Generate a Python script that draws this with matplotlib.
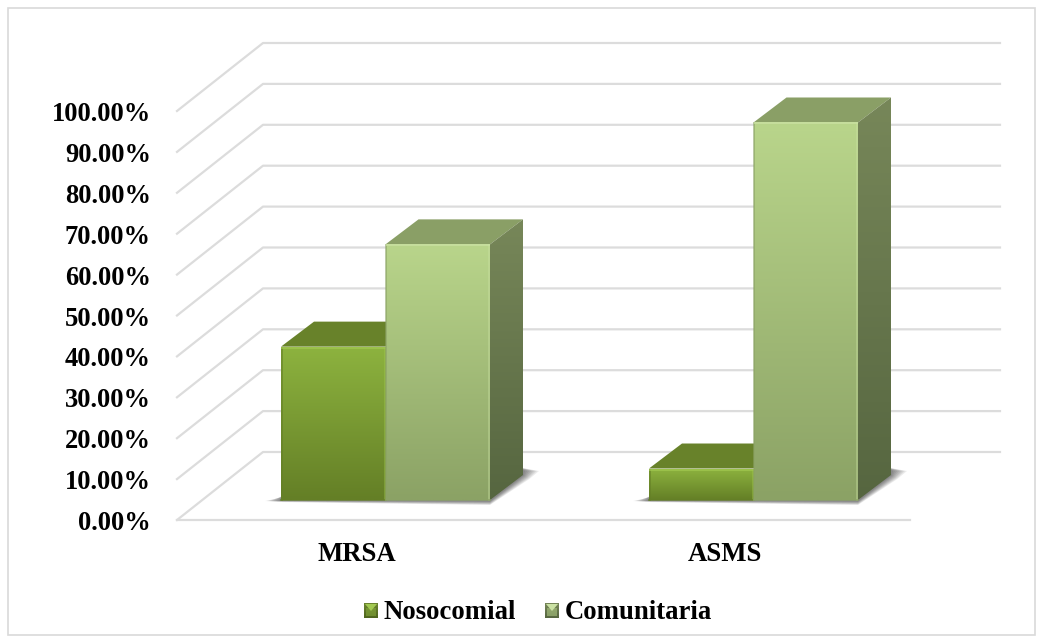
import matplotlib
matplotlib.use("Agg")
import matplotlib.pyplot as plt
from matplotlib.colors import LinearSegmentedColormap
from matplotlib.patches import Polygon
import numpy as np

plt.rcParams['font.family'] = ['Liberation Serif', 'DejaVu Serif']

categories = ["MRSA", "ASMS"]
series_names = ["Nosocomial", "Comunitaria"]
nosocomial = [37.5, 7.7]
comunitaria = [62.5, 92.3]
tick_values = [0, 10, 20, 30, 40, 50, 60, 70, 80, 90, 100]
tick_labels = ["0.00%", "10.00%", "20.00%", "30.00%", "40.00%", "50.00%",
               "60.00%", "70.00%", "80.00%", "90.00%", "100.00%"]

# couleurs : front haut, front bas, dessus, cote haut, cote bas, reflet
colors_nos = ["#8DB33F", "#647F26", "#68822A", "#6B8530", "#4F651E", "#A2C951"]
colors_com = ["#B9D58B", "#8BA265", "#8A9F66", "#778759", "#566640", "#CBE2A4"]

# geometrie en pixels de la projection oblique
PX_PER_PCT = 4.09
FLOOR_Y = 520
WALL_DX, WALL_DY = 86, -68
BASE_Y = 500
BAR_W = 104.5
BAR_DX, BAR_DY = 33, -25
GROUP_LEFT = [281, 649]
GRID = "#DCDCDC"


def vy(v, base):
    return base - v * PX_PER_PCT


def grad(ax, poly, c1, c2, y1, y2, zorder):
    # remplit un polygone avec un degrade vertical
    cmap = LinearSegmentedColormap.from_list("g", [c1, c2])
    xs = [p[0] for p in poly]
    im = ax.imshow(np.linspace(0, 1, 128).reshape(-1, 1), cmap=cmap, aspect='auto',
                   extent=(min(xs), max(xs), y2, y1), zorder=zorder, vmin=0, vmax=1)
    clip = Polygon(poly, closed=True, transform=ax.transData, fc='none', ec='none')
    ax.add_patch(clip)
    im.set_clip_path(clip)


def bar3d(ax, x, v, col, zorder):
    top = vy(v, BASE_Y)
    xr = x + BAR_W
    # dessus
    ax.add_patch(Polygon([(x, top), (xr, top), (xr + BAR_DX, top + BAR_DY), (x + BAR_DX, top + BAR_DY)],
                         fc=col[2], ec='none', zorder=zorder))
    # cote
    side = [(xr, top), (xr + BAR_DX, top + BAR_DY), (xr + BAR_DX, BASE_Y + BAR_DY), (xr, BASE_Y)]
    grad(ax, side, col[3], col[4], top + BAR_DY, BASE_Y, zorder)
    # face avant
    front = [(x, top), (xr, top), (xr, BASE_Y), (x, BASE_Y)]
    grad(ax, front, col[0], col[1], top, BASE_Y, zorder + 0.1)
    ax.plot([x + 0.5, x + 0.5], [BASE_Y, top + 1], color=col[1], lw=1.2, alpha=0.7, zorder=zorder + 0.2)
    ax.plot([xr - 0.8, xr - 0.8], [BASE_Y, top + 1], color=col[5], lw=1.2, alpha=0.45, zorder=zorder + 0.2)
    ax.plot([x + 1, xr - 1], [top + 1, top + 1], color=col[5], lw=1.4, alpha=0.7, zorder=zorder + 0.2)
    ax.plot([x, xr], [BASE_Y - 0.5, BASE_Y - 0.5], color=col[1], lw=1.2, alpha=0.8, zorder=zorder + 0.2)


def shadow(ax, x):
    # ombre floue : polygones de plus en plus petits
    xr = x + 2 * BAR_W
    for g in np.arange(16, 0, -2):
        d = g * 0.25
        ax.add_patch(Polygon([(x - g, BASE_Y + 1), (x + 2, BASE_Y + 0.5 + d * 0.4), (xr, BASE_Y + 1 + d),
                              (xr + BAR_DX + g * 0.4, BASE_Y + BAR_DY + d),
                              (xr + BAR_DX + g, BASE_Y + BAR_DY - 4),
                              (xr + BAR_DX - 6, BASE_Y + BAR_DY - 8), (x + 6, BASE_Y - 10 + g * 0.4)],
                             fc='black', ec='none', alpha=0.075, zorder=3))


fig = plt.figure(figsize=(10.43, 6.43), dpi=100)
ax = fig.add_axes([0, 0, 1, 1])

# cadre
ax.add_patch(plt.Rectangle((8, 8), 1027, 627, fc='white', ec='#D9D9D9', lw=1.2, zorder=0))

# grille : mur du fond et diagonales
for v in tick_values:
    y = vy(v, FLOOR_Y)
    ax.plot([177, 177 + WALL_DX, 1000], [y, y + WALL_DY, y + WALL_DY], color=GRID, lw=1.6, zorder=1)
ax.plot([177, 910], [FLOOR_Y, FLOOR_Y], color=GRID, lw=1.6, zorder=1)

# barres
for i in range(2):
    shadow(ax, GROUP_LEFT[i])
    bar3d(ax, GROUP_LEFT[i], nosocomial[i], colors_nos, 4)
    bar3d(ax, GROUP_LEFT[i] + BAR_W, comunitaria[i], colors_com, 5)

# textes
for v, lab in zip(tick_values, tick_labels):
    ax.text(151, vy(v, FLOOR_Y) + 10, lab, ha='right', va='baseline', fontsize=19.1, fontweight='bold', color='black')
for x, lab in zip([356.5, 725], categories):
    ax.text(x, 561, lab, ha='center', va='baseline', fontsize=19.3, fontweight='bold', color='black')

# legende
for x, tx, name, col in zip([364, 545], [383, 565], series_names, [colors_nos, colors_com]):
    sq = [(x, 603), (x + 14, 603), (x + 14, 618), (x, 618)]
    grad(ax, sq, col[3], col[4], 603, 618, 6)
    ax.add_patch(Polygon([(x + 1, 604), (x + 13, 604), (x + 7, 611)], fc=col[5], ec='none', zorder=7))
    ax.add_patch(Polygon([(x + 2, 608), (x + 12, 608), (x + 12, 616), (x + 2, 616)], fc=col[0], ec='none', alpha=0.5, zorder=6.5))
    ax.text(tx, 619, name, ha='left', va='baseline', fontsize=19.3, fontweight='bold', color='black')

ax.set_xlim(0, 1043)
ax.set_ylim(643, 0)
ax.axis('off')

fig.savefig("out.png", dpi=100, facecolor='white')
